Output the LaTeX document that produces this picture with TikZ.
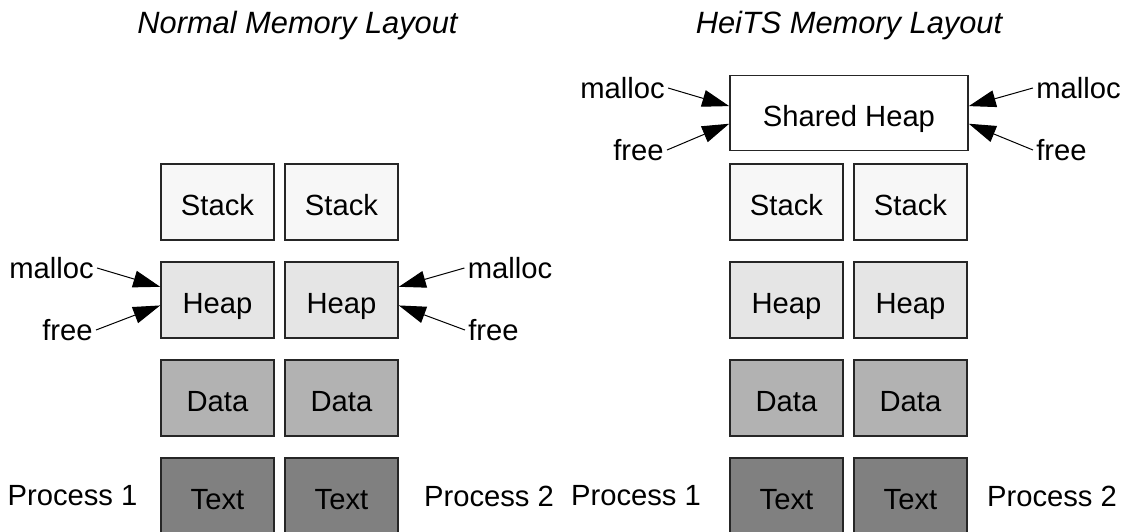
\documentclass[tikz,border=0pt]{standalone}
\usepackage{fontspec}
\setmainfont{Liberation Sans}
\usetikzlibrary{arrows.meta,calc}
\begin{document}
\begin{tikzpicture}[x=0.5pt,y=-0.5pt,
  font=\fontsize{14.6pt}{17pt}\selectfont,
  seg/.style={draw=black!85, line width=0.8pt, rectangle,
    minimum width=56.5pt, minimum height=38pt, inner sep=0pt,
    text height=13.5pt, text depth=0pt},
  stackseg/.style={seg, fill=black!3},
  heapseg/.style={seg, fill=black!10},
  dataseg/.style={seg, fill=black!30},
  textseg/.style={seg, fill=black!50},
  lbl/.style={inner sep=1.5pt},
  title/.style={font=\fontsize{15.4pt}{18pt}\selectfont\itshape},
  call/.style={-{Triangle[length=13.5pt,width=8.5pt]}, line width=0.5pt}]
\useasboundingbox (0,0) rectangle (1126,531);

% titles
\node[title] (t1) at (297.5,26) {Normal Memory Layout};
\node[title] (t2) at (849,26) {HeiTS Memory Layout};

% normal layout: two processes
\node[stackseg] (s1) at (217.5,202) {Stack};
\node[stackseg] (s2) at (341.5,202) {Stack};
\node[heapseg]  (h1) at (217.5,300) {Heap};
\node[heapseg]  (h2) at (341.5,300) {Heap};
\node[dataseg]  (d1) at (217.5,398) {Data};
\node[dataseg]  (d2) at (341.5,398) {Data};
\node[textseg]  (x1) at (217.5,496) {Text};
\node[textseg]  (x2) at (341.5,496) {Text};

\node[lbl] (p1) at (72.5,496) {Process 1};
\node[lbl] (p2) at (489,496) {Process 2};

\node[lbl] (m1) at (51.5,268) {malloc};
\node[lbl] (f1) at (67.5,330) {free};
\node[lbl] (m2) at (510,268) {malloc};
\node[lbl] (f2) at (493.5,330) {free};

\coordinate (h1m) at ($(h1.north west)!0.33!(h1.south west)$);
\coordinate (h1f) at ($(h1.north west)!0.57!(h1.south west)$);
\coordinate (h2m) at ($(h2.north east)!0.33!(h2.south east)$);
\coordinate (h2f) at ($(h2.north east)!0.57!(h2.south east)$);

\draw[call] (m1.east) -- (h1m);
\draw[call] (f1.east) -- (h1f);
\draw[call] (m2.west) -- (h2m);
\draw[call] (f2.west) -- (h2f);

% HeiTS layout: shared heap above both processes
\node[seg, fill=white, minimum width=119pt, minimum height=37.5pt] (sh) at (849,113) {Shared Heap};
\node[stackseg] (s3) at (786.5,202) {Stack};
\node[stackseg] (s4) at (910.5,202) {Stack};
\node[heapseg]  (h3) at (786.5,300) {Heap};
\node[heapseg]  (h4) at (910.5,300) {Heap};
\node[dataseg]  (d3) at (786.5,398) {Data};
\node[dataseg]  (d4) at (910.5,398) {Data};
\node[textseg]  (x3) at (786.5,496) {Text};
\node[textseg]  (x4) at (910.5,496) {Text};

\node[lbl] (p3) at (636,496) {Process 1};
\node[lbl] (p4) at (1052,496) {Process 2};

\node[lbl] (m3) at (622.5,88) {malloc};
\node[lbl] (f3) at (638.5,150) {free};
\node[lbl] (m4) at (1078.5,88) {malloc};
\node[lbl] (f4) at (1061.5,150) {free};

\coordinate (shm) at ($(sh.north west)!0.41!(sh.south west)$);
\coordinate (shf) at ($(sh.north west)!0.64!(sh.south west)$);
\coordinate (shm2) at ($(sh.north east)!0.41!(sh.south east)$);
\coordinate (shf2) at ($(sh.north east)!0.64!(sh.south east)$);

\draw[call] (m3.east) -- (shm);
\draw[call] (f3.east) -- (shf);
\draw[call] (m4.west) -- (shm2);
\draw[call] (f4.west) -- (shf2);
\end{tikzpicture}
\end{document}
